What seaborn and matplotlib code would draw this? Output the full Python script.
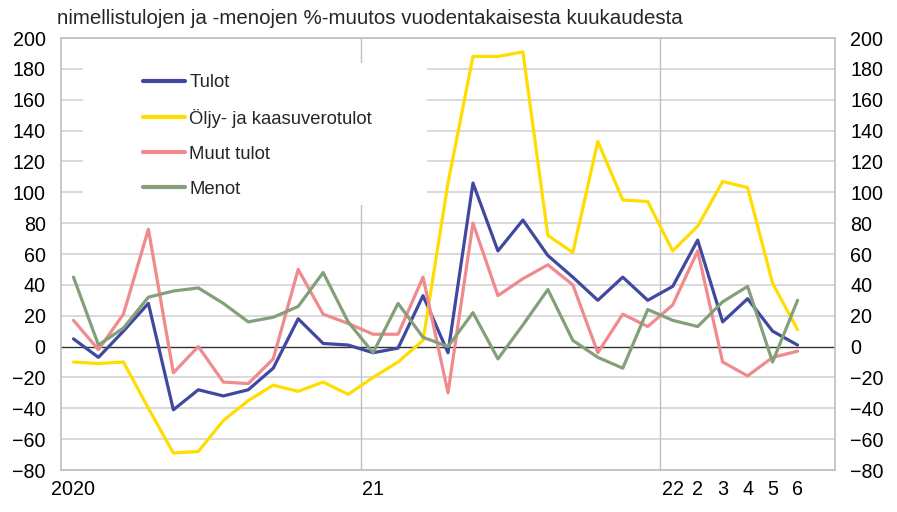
import numpy as np
import pandas as pd
import matplotlib
matplotlib.use("Agg")
import matplotlib.pyplot as plt
from matplotlib.patches import Rectangle
import seaborn as sns

title = "nimellistulojen ja -menojen %-muutos vuodentakaisesta kuukaudesta"

months = list(range(30))  # Jan 2020 .. Jun 2022
tick_pos = [0, 12, 24, 25, 26, 27, 28, 29]
tick_labels = ["2020", "21", "22", "2", "3", "4", "5", "6"]

tulot = [5, -7, 10, 28, -41, -28, -32, -28, -14, 18, 2, 1,
         -4, -1, 33, -4, 106, 62, 82, 59, 45, 30, 45, 30,
         39, 69, 16, 31, 10, 1]
oljy = [-10, -11, -10, -40, -69, -68, -48, -35, -25, -29, -23, -31,
        -20, -10, 4, 106, 188, 188, 191, 72, 61, 133, 95, 94,
        62, 78, 107, 103, 41, 11]
muut = [17, -2, 21, 76, -17, 0, -23, -24, -8, 50, 21, 15,
        8, 8, 45, -30, 80, 33, 44, 53, 40, -4, 21, 13,
        27, 62, -10, -19, -7, -3]
menot = [45, 1, 12, 32, 36, 38, 28, 16, 19, 26, 48, 16,
         -4, 28, 6, 0, 22, -8, 14, 37, 4, -7, -14, 24,
         17, 13, 29, 39, -10, 30]

series_names = ["Tulot", "Öljy- ja kaasuverotulot", "Muut tulot", "Menot"]
colors = ["#4048A0", "#FFDD00", "#F08A8E", "#84A07A"]

df = pd.concat([
    pd.DataFrame({"kk": months, "arvo": vals, "sarja": name})
    for name, vals in zip(series_names, [tulot, oljy, muut, menot])
])

sns.set_theme(style="white")
plt.rcParams["font.family"] = ["Liberation Sans", "DejaVu Sans"]

fig = plt.figure(figsize=(8.97, 5.12), dpi=100)
ax = fig.add_axes([61 / 897, 1 - 470 / 512, 774 / 897, 432 / 512])

yticks = list(range(-80, 201, 20))
for yv in yticks:
    if yv != 0:
        ax.axhline(yv, color="#D9D9D9", lw=1.4, zorder=0.5)
for xv in [11.5, 23.5]:
    ax.axvline(xv, color="#BFBFBF", lw=1.0, zorder=0.6)
ax.axhline(0, color="#333333", lw=1.0, zorder=0.7)

# white legend background covering grid
ax.add_patch(Rectangle((0.0284, 0.613), 0.445, 0.329, transform=ax.transAxes,
                       facecolor="white", edgecolor="none", zorder=1.5))

sns.lineplot(data=df, x="kk", y="arvo", hue="sarja", hue_order=series_names,
             palette=colors, linewidth=2.3, sort=False, ax=ax, zorder=2,
             legend=True)

ax.set_xlim(-0.5, 30.5)
ax.set_ylim(-80, 200)
ax.set_xticks(tick_pos)
ax.set_xticklabels(tick_labels)
ax.set_yticks(yticks)
ax.set_xlabel("")
ax.set_ylabel("")
ax.tick_params(axis="both", length=0, labelsize=14.2, colors="black")
ax.tick_params(axis="y", pad=11)
ax.tick_params(axis="x", pad=7)
for s in ax.spines.values():
    s.set_color("#BFBFBF")
    s.set_linewidth(1.2)

ax2 = ax.twinx()
ax2.set_ylim(-80, 200)
ax2.set_yticks(yticks)
ax2.tick_params(axis="y", length=0, labelsize=14.2, pad=11, colors="black")
for s in ax2.spines.values():
    s.set_visible(False)

leg = ax.legend(loc="upper left", bbox_to_anchor=((143 - 61) / 774, (470 - 74) / 432),
                frameon=False, fontsize=13.3, handlelength=2.3, handletextpad=0.2,
                labelspacing=0.97, borderpad=0, borderaxespad=0)
for line in leg.get_lines():
    line.set_linewidth(3)

fig.text(57 / 897, 1 - 18 / 512, title, fontsize=14.8, va="center", ha="left")

fig.savefig("out.png", dpi=100)
